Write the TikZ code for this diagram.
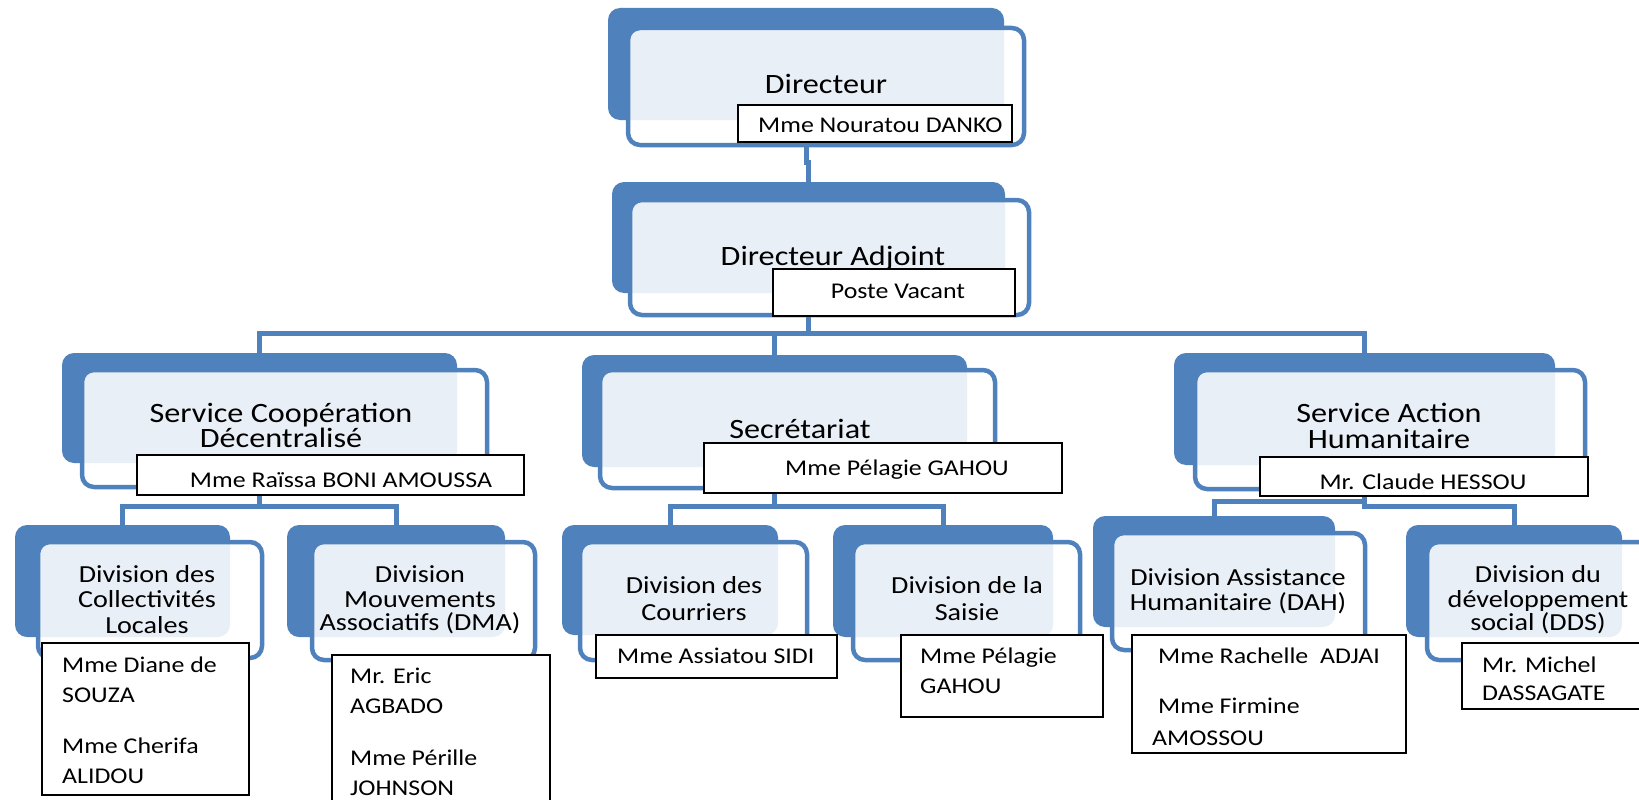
\documentclass[tikz,border=0pt]{standalone}
\usepackage{fontspec}
\setmainfont{Carlito}[FakeStretch=1.15]
\usetikzlibrary{fit,backgrounds}
\definecolor{plateblue}{RGB}{79,129,189}
\tikzset{
  plate/.style={fill=plateblue, draw=none, rounded corners=12pt, inner sep=0pt},
  front/.style={draw=plateblue, line width=4.5pt, fill=white, fill opacity=0.88, rounded corners=12pt, inner sep=0pt},
  namebox/.style={draw=black, line width=2.6pt, fill=white, inner sep=0pt},
  conn/.style={draw=plateblue, line width=5pt},
  big/.style={font=\fontsize{28}{30}\selectfont, inner sep=0pt, anchor=base},
  mid/.style={font=\fontsize{24.5}{26}\selectfont, inner sep=0pt, anchor=base},
  small/.style={font=\fontsize{22.5}{24}\selectfont, inner sep=0pt, anchor=base},
  smallL/.style={small, anchor=base west},
}
% a box given by its two corners
\newcommand\cornerbox[6]{\node[#2, fit={(#3,#4)(#5,#6)}] (#1) {};}
\begin{document}
\begin{tikzpicture}[x=1pt,y=-1pt]
\useasboundingbox (0,0) rectangle (1639,800);
\clip (0,0) rectangle (1639,800);

% ---- back plates ----
\cornerbox{p1}{plate}{608}{8}{1004}{120}
\cornerbox{p2}{plate}{612}{182}{1005}{293}
\cornerbox{p3}{plate}{62}{353}{457}{463}
\cornerbox{p4}{plate}{582}{355}{967}{467}
\cornerbox{p5}{plate}{1174}{353}{1555}{465}
\cornerbox{p31}{plate}{15}{525}{230}{637}
\cornerbox{p32}{plate}{287}{525}{505}{637}
\cornerbox{p41}{plate}{562}{525}{778}{635}
\cornerbox{p42}{plate}{833}{525}{1053}{637}
\cornerbox{p51}{plate}{1093}{516}{1335}{627}
\cornerbox{p52}{plate}{1406}{525}{1622}{637}

% ---- front panels ----
\cornerbox{f1}{front}{628}{28}{1024}{145}
\cornerbox{f2}{front}{630}{200}{1029}{315}
\cornerbox{f3}{front}{82}{370}{487}{487}
\cornerbox{f4}{front}{600}{370}{995}{488}
\cornerbox{f5}{front}{1195}{370}{1585}{489}
\cornerbox{f31}{front}{38}{542}{262}{658}
\cornerbox{f32}{front}{312}{542}{535}{660}
\cornerbox{f41}{front}{580}{542}{807}{660}
\cornerbox{f42}{front}{853}{542}{1080}{660}
\cornerbox{f51}{front}{1112}{533}{1365}{650}
\cornerbox{f52}{front}{1427}{542}{1652}{660}

% ---- titles ----
\node[big] (t1) at (826,93) {Directeur};
\node[big] (t2) at (833,265) {Directeur Adjoint};
\node[big] (t3a) at (281,422) {Service Coopération};
\node[big] (t3b) at (281,447) {Décentralisé};
\node[big] (t4) at (800,438) {Secrétariat};
\node[big] (t5a) at (1389,422) {Service Action};
\node[big] (t5b) at (1389,448) {Humanitaire};

\node[mid] (t31a) at (147,582) {Division des};
\node[mid] (t31b) at (147,607) {Collectivités};
\node[mid] (t31c) at (147,633) {Locales};
\node[mid] (t32a) at (420,582) {Division};
\node[mid] (t32b) at (420,607) {Mouvements};
\node[mid] (t32c) at (420,630) {Associatifs (DMA)};
\node[mid] (t41a) at (694,593) {Division des};
\node[mid] (t41b) at (694,620) {Courriers};
\node[mid] (t42a) at (967,593) {Division de la};
\node[mid] (t42b) at (967,620) {Saisie};
\node[mid] (t51a) at (1238,585) {Division Assistance};
\node[mid] (t51b) at (1238,610) {Humanitaire (DAH)};
\node[mid] (t52a) at (1538,582) {Division du};
\node[mid] (t52b) at (1538,607) {développement};
\node[mid] (t52c) at (1538,630) {social (DDS)};

% ---- name boxes ----
\cornerbox{n1}{namebox}{738}{105}{1012}{142}
\cornerbox{n2}{namebox}{773}{269}{1015}{316}
\cornerbox{n3}{namebox}{137}{455}{524}{495}
\cornerbox{n4}{namebox}{704}{443}{1062}{493}
\cornerbox{n5}{namebox}{1260}{457}{1588}{496}
\cornerbox{n31}{namebox}{42}{643}{249}{795}
\cornerbox{n32}{namebox}{332}{655}{550}{815}
\cornerbox{n41}{namebox}{596}{635}{837}{678}
\cornerbox{n42}{namebox}{901}{635}{1103}{717}
\cornerbox{n51}{namebox}{1132}{635}{1406}{753}
\cornerbox{n52}{namebox}{1462}{643}{1662}{709}

% ---- names ----
\node[smallL] (m1) at (758,132) {Mme Nouratou DANKO};
\node[small] (m2) at (898,298) {Poste Vacant};
\node[small] (m3) at (341,487) {Mme Raïssa BONI AMOUSSA};
\node[small] (m4) at (897,475) {Mme Pélagie GAHOU};
\node[small] (m5) at (1423,489) {Mr. Claude HESSOU};

\node[smallL] (m31a) at (62,672) {Mme Diane de};
\node[smallL] (m31b) at (62,702) {SOUZA};
\node[smallL] (m31c) at (62,753) {Mme Cherifa};
\node[smallL] (m31d) at (62,783) {ALIDOU};
\node[smallL] (m32a) at (350,683) {Mr. Eric};
\node[smallL] (m32b) at (350,713) {AGBADO};
\node[smallL] (m32c) at (350,765) {Mme Pérille};
\node[smallL] (m32d) at (350,795) {JOHNSON};
\node[smallL] (m41) at (617,663) {Mme Assiatou SIDI};
\node[smallL] (m42a) at (920,663) {Mme Pélagie};
\node[smallL] (m42b) at (920,693) {GAHOU};
\node[smallL] (m51a) at (1158,663) {Mme Rachelle\ \ ADJAI};
\node[smallL] (m51b) at (1158,713) {Mme Firmine};
\node[smallL] (m51c) at (1152,745) {AMOSSOU};
\node[smallL] (m52a) at (1482,672) {Mr. Michel};
\node[smallL] (m52b) at (1482,700) {DASSAGATE};

% ---- connectors ----
\begin{scope}[on background layer]
  \draw[conn] (p1.center |- f1.south) -- ++(0,15) -| (p2.north);
  \coordinate (b1) at (808,333);
  \draw[conn] (p2.center |- f2.south) -- (p2.center |- b1);
  \draw[conn] (p3.north) |- (b1) -| (p5.north);
  \draw[conn] (p4.center |- b1) -- (p4.north);

  \draw[conn] (p3.center |- n3.south) -- ++(0,10) coordinate (b3);
  \draw[conn] (p31.north) |- (b3) -| (p32.north);

  \draw[conn] (p4.center |- n4.south) -- ++(0,12) coordinate (b4);
  \draw[conn] (p41.north) |- (b4) -| (p42.north);

  \draw[conn] (p5.center |- n5.south) -- ++(0,9) coordinate (b5);
  \draw[conn] (p51.north) |- ([yshift=5pt]b5) -- (b5) -| (p52.north);
\end{scope}
\end{tikzpicture}
\end{document}
